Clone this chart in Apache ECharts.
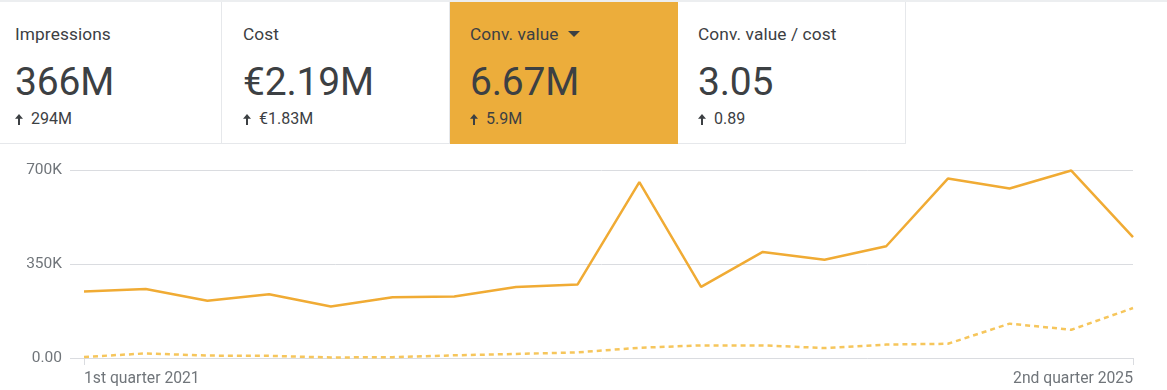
<!DOCTYPE html>
<html>
<head>
<meta charset="utf-8">
<script src="https://cdn.jsdelivr.net/npm/echarts@6/dist/echarts.min.js"></script>
<style>
  html, body { margin:0; padding:0; background:#fff; width:1167px; height:390px; overflow:hidden; font-family: Roboto, "Noto Sans", Arial, sans-serif; }
  #top { position:absolute; left:0; top:0; width:1167px; height:2px; background:#eceef0; }
  .card { position:absolute; top:2px; height:142px; box-sizing:border-box; border-right:1.5px solid #e6e8eb; border-bottom:1.5px solid #e6e8eb; background:#fff; color:#3c4043; }
  .card.sel { background:#ecad3b; border-color:#ecad3b; }
  .title { position:absolute; top:22px; font-size:17.3px; letter-spacing:0.1px; white-space:nowrap; }
  .big { position:absolute; top:57px; font-size:39px; white-space:nowrap; letter-spacing:-0.2px; }
  .delta { position:absolute; top:107px; font-size:16px; white-space:nowrap; }
  .arr { display:inline-block; width:8px; height:11px; margin-right:8px; vertical-align:-0.5px; }
  .caret { display:inline-block; width:0; height:0; border-left:6px solid transparent; border-right:6px solid transparent; border-top:6px solid #3c4043; margin-left:9px; position:relative; top:-3px; }
  #chart { position:absolute; left:0; top:150px; width:1167px; height:240px; }
</style>
</head>
<body>
<div id="top"></div>
<div id="cards"></div>
<div id="chart"></div>
<script>
// ---- data ----
const cardTitles = ["Impressions", "Cost", "Conv. value", "Conv. value / cost"];
const cardValues = ["366M", "€2.19M", "6.67M", "3.05"];
const cardDeltas = ["294M", "€1.83M", "5.9M", "0.89"];
const quarters = [
  "1st quarter 2021","2nd quarter 2021","3rd quarter 2021","4th quarter 2021",
  "1st quarter 2022","2nd quarter 2022","3rd quarter 2022","4th quarter 2022",
  "1st quarter 2023","2nd quarter 2023","3rd quarter 2023","4th quarter 2023",
  "1st quarter 2024","2nd quarter 2024","3rd quarter 2024","4th quarter 2024",
  "1st quarter 2025","2nd quarter 2025"
];
const convValue = [248000, 257000, 213000, 237000, 192000, 226000, 229000, 264000, 274000,
                   655000, 265000, 395000, 366000, 416000, 668000, 631000, 698000, 450000];
const convValuePrev = [4000, 17000, 9000, 8000, 2000, 3000, 10000, 15000, 21000,
                       38000, 47000, 47000, 37000, 50000, 53000, 128000, 105000, 186000];
const yTicks = [0, 350000, 700000];
const yTickLabels = ["0.00", "350K", "700K"];

// ---- cards ----
const cardLefts = [0, 222, 450, 678];
const cardWidths = [222, 228, 228, 227.5];
const padLeft = [15, 21, 20, 20];
const arrowSvg = '<svg class="arr" viewBox="0 0 8 11"><path d="M4 0 L8 4.8 L5 4.8 L5 11 L3 11 L3 4.8 L0 4.8 Z" fill="#3c4043"/></svg>';
const cardsEl = document.getElementById('cards');
cardTitles.forEach((t, i) => {
  const c = document.createElement('div');
  c.className = 'card' + (i === 2 ? ' sel' : '');
  c.style.left = cardLefts[i] + 'px';
  c.style.width = cardWidths[i] + 'px';
  const p = padLeft[i] + 'px';
  c.innerHTML =
    '<div class="title" style="left:' + p + '">' + t + (i === 2 ? '<span class="caret"></span>' : '') + '</div>' +
    '<div class="big" style="left:' + p + '">' + cardValues[i] + '</div>' +
    '<div class="delta" style="left:' + p + '">' + arrowSvg + cardDeltas[i] + '</div>';
  cardsEl.appendChild(c);
});

// ---- chart ----
const chart = echarts.init(document.getElementById('chart'), null, { renderer: 'canvas' });
const n = quarters.length;
const idx = quarters.map((q, i) => i);
chart.setOption({
  animation: false,
  grid: { left: 70, right: 34, top: 20, bottom: 32, containLabel: false },
  xAxis: {
    type: 'value',
    min: -0.227,
    max: n - 1,
    axisLine: { show: false },
    splitLine: { show: false },
    axisTick: { show: true, customValues: [0, n - 1], length: 7, lineStyle: { color: '#dadce0', width: 1 } },
    axisLabel: {
      customValues: [0, n - 1],
      formatter: v => quarters[Math.round(v)],
      color: '#70757a', fontSize: 15.7, fontFamily: 'Roboto', margin: 13,
      alignMinLabel: 'left', alignMaxLabel: 'right'
    }
  },
  yAxis: {
    type: 'value',
    min: 0, max: 700000, interval: 350000,
    axisLine: { show: false },
    axisTick: { show: false },
    splitLine: { lineStyle: { color: '#dadce0', width: 1 } },
    axisLabel: {
      formatter: v => yTickLabels[yTicks.indexOf(v)],
      color: '#70757a', fontSize: 15.5, fontFamily: 'Roboto', margin: 8
    }
  },
  series: [
    {
      type: 'line', name: 'prev', symbol: 'none',
      data: convValuePrev.map((v, i) => [idx[i], v]),
      lineStyle: { color: '#f6c65c', width: 2.5, type: [5, 4] },
      z: 2
    },
    {
      type: 'line', name: 'Conv. value', symbol: 'none',
      data: convValue.map((v, i) => [idx[i], v]),
      lineStyle: { color: '#f0ab34', width: 2.5 },
      z: 3
    }
  ]
});
</script>
</body>
</html>
